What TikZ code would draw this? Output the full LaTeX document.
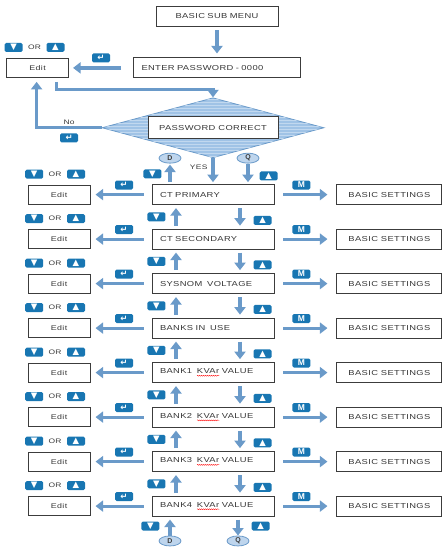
\documentclass[tikz,border=0pt]{standalone}
\usepackage{fontspec}
\setmainfont{Liberation Sans}
\newfontfamily\boxfont[FakeStretch=1.3, LetterSpace=5]{Liberation Sans}
\newfontfamily\symfont{DejaVu Sans}
\usepackage{tikz}
\usetikzlibrary{shapes.geometric, arrows.meta, positioning, patterns, decorations.pathmorphing}

\definecolor{flowblue}{RGB}{106,154,201}
\definecolor{keyblue}{RGB}{24,118,178}
\definecolor{ovalfill}{RGB}{190,213,237}
\definecolor{diafill}{RGB}{160,195,230}
\definecolor{boxline}{RGB}{60,60,60}
\definecolor{boxtext}{RGB}{55,55,55}

\newcommand{\keydn}{{\symfont ▼}}
\newcommand{\keyup}{{\symfont ▲}}
\newcommand{\keyenter}{{\symfont\bfseries ↵}}
\newsavebox{\wavebox}
\newcommand{\redwave}[1]{\sbox{\wavebox}{#1}\rlap{\usebox{\wavebox}}\tikz[baseline=0pt]\draw[red, line width=0.35pt, decorate, decoration={snake, amplitude=0.5pt, segment length=2pt}] (0pt,-2pt) -- (\wd\wavebox,-2pt);}

\begin{document}
\begin{tikzpicture}[x=1pt, y=-1pt,
    node distance=23.6pt and 60pt,
    box/.style={rectangle, draw=boxline, line width=0.9pt, fill=white, minimum height=20pt, inner sep=2pt, text=boxtext, font=\boxfont\fontsize{7.2}{8}\selectfont},
    mainbox/.style={box, minimum width=122pt, text width=106pt, inner xsep=8pt, align=left},
    editbox/.style={box, minimum width=62pt, minimum height=19pt, font=\boxfont\fontsize{6.8}{8}\selectfont},
    setbox/.style={box, minimum width=105pt},
    keybox/.style={rectangle, fill=keyblue, rounded corners=1.5pt, minimum width=18pt, minimum height=9pt, inner sep=0pt, text=white, font=\fontsize{8.5}{8}\selectfont},
    ortext/.style={inner sep=0pt, text=boxtext, font=\boxfont\fontsize{6.5}{7}\selectfont},
    conn/.style={ellipse, draw=flowblue, line width=0.8pt, fill=ovalfill, minimum width=22pt, minimum height=10pt, inner sep=0pt, text=boxline, font=\bfseries\fontsize{7}{7}\selectfont},
    decision/.style={diamond, draw=flowblue, line width=0.8pt, fill=diafill, postaction={pattern=horizontal lines, pattern color=white!35!diafill}, minimum width=222pt, minimum height=60pt, inner sep=0pt},
    arrow/.style={-{Triangle[width=11pt, length=7.5pt]}, line width=3.2pt, draw=flowblue}
]
\useasboundingbox (0,0) rectangle (445,547);

% Password entry
\node[mainbox, align=center] (menu) at (217,16) {BASIC SUB MENU};
\node[mainbox, text width=151pt, below=31pt of menu] (enter) {ENTER PASSWORD - 0000};
\node[editbox, left=64pt of enter] (edit0) {Edit};
\node[ortext, above=8pt of edit0, xshift=-3pt] (or0) {OR};
\node[keybox, left=5pt of or0] (dn0) {\keydn};
\node[keybox, right=5pt of or0] (up0) {\keyup};
\node[decision, below=19pt of enter, xshift=-4pt] (check) {};
\node[box, minimum width=130pt, minimum height=22pt] (correct) at (check) {PASSWORD CORRECT};
\node[conn, xshift=-43pt] (d1) at (check.south) {D};
\node[conn, xshift=35pt] (q1) at (check.south) {Q};

% Menu column
\node[mainbox, below=26pt of check] (ct1) {CT PRIMARY};
\node[mainbox, below=of ct1] (ct2) {CT SECONDARY};
\node[mainbox, below=of ct2] (sys) {SYSNOM\ \ VOLTAGE};
\node[mainbox, below=of sys] (banks) {BANKS IN\ \ USE};
\node[mainbox, below=of banks] (b1) {BANK1\ \ \redwave{KVAr} VALUE};
\node[mainbox, below=of b1] (b2) {BANK2\ \ \redwave{KVAr} VALUE};
\node[mainbox, below=of b2] (b3) {BANK3\ \ \redwave{KVAr} VALUE};
\node[mainbox, below=of b3] (b4) {BANK4\ \ \redwave{KVAr} VALUE};
\node[conn, below=19pt of b4, xshift=-43pt] (d2) {D};
\node[conn, below=19pt of b4, xshift=25pt] (q2) {Q};

% Arrows
\draw[arrow, shorten <=4pt, shorten >=4pt] (menu) -- (enter);
\draw[arrow, shorten <=12pt, shorten >=4pt] (enter) -- node[keybox, above=4pt] (ent0) {\keyenter} (edit0);
\draw[arrow, shorten <=4pt] ([xshift=19pt]edit0.south) -- ++(0,12) -| (check.north);
\draw[arrow, shorten >=4pt] (check.west) -| node[pos=0.25, above=2pt, ortext] (no) {No} node[keybox, pos=0.25, below=4pt] (ent00) {\keyenter} ([xshift=-1pt]edit0.south);
\draw[arrow, shorten >=2pt] (check.south) -- node[pos=0.35, left=4pt, ortext] (yes) {YES} (ct1.north);
\draw[arrow, shorten <=2pt, shorten >=1pt] (ct1.north -| d1) -- node[keybox, left=7pt] (kd1) {\keydn} (d1);
\draw[arrow, shorten >=2pt] (q1) -- node[keybox, pos=0.6, right=10pt] (ku1) {\keyup} (ct1.north -| q1);

\foreach \r in {ct1, ct2, sys, banks, b1, b2, b3, b4} {
  \node[editbox, left=61pt of \r] (edit-\r) {Edit};
  \node[setbox, right=62pt of \r] (set-\r) {BASIC SETTINGS};
  \node[ortext, above=8pt of edit-\r, xshift=-4pt] (or-\r) {OR};
  \node[keybox, left=5pt of or-\r] (dn-\r) {\keydn};
  \node[keybox, right=5pt of or-\r] (up-\r) {\keyup};
  \draw[arrow, shorten <=8pt, shorten >=5pt] (\r) -- node[keybox, above=3.5pt, xshift=3pt] (ent-\r) {\keyenter} (edit-\r);
  \draw[arrow, shorten <=9pt, shorten >=9pt] (\r) -- node[keybox, above=3.5pt, xshift=-4pt] (m-\r) {\textbf{M}} (set-\r);
}

\foreach \a/\b in {ct1/ct2, ct2/sys, sys/banks, banks/b1, b1/b2, b2/b3, b3/b4} {
  \draw[arrow, shorten <=3pt, shorten >=3pt] ([xshift=-37pt]\b.north) -- node[keybox, left=9pt] (kd-\b) {\keydn} ([xshift=-37pt]\a.south);
  \draw[arrow, shorten <=3pt, shorten >=3pt] ([xshift=27pt]\a.south) -- node[keybox, pos=0.65, right=12pt] (ku-\b) {\keyup} ([xshift=27pt]\b.north);
}

\draw[arrow, shorten >=3pt] (d2) -- node[keybox, left=9pt] (kd2) {\keydn} (d2 |- b4.south);
\draw[arrow, shorten <=3pt] (b4.south -| q2) -- node[keybox, right=12pt] (ku2) {\keyup} (q2);

\end{tikzpicture}
\end{document}
